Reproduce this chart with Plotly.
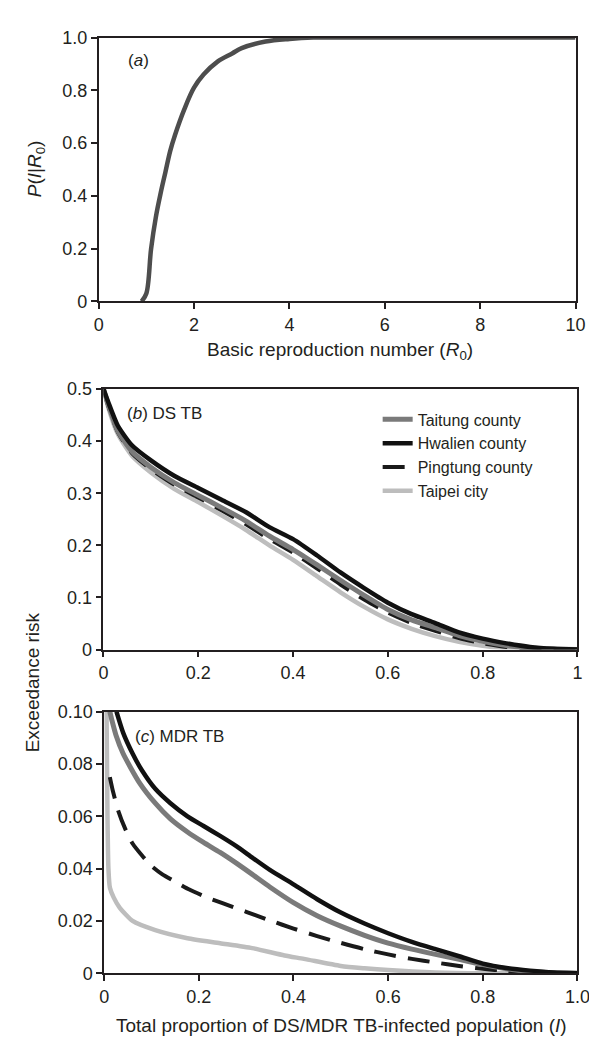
import plotly.graph_objects as go

# ---------------- data ----------------
# Panel (a): P(I|R0) vs R0
r0 = [0.9, 1.0, 1.1, 1.2, 1.3, 1.4, 1.5, 1.6, 1.8, 2.0, 2.2, 2.5, 2.8, 3.0, 3.5, 4.0, 4.5, 5.0, 10.0]
p_r0 = [0.0, 0.03, 0.20, 0.32, 0.41, 0.49, 0.57, 0.63, 0.73, 0.81, 0.86, 0.91, 0.94, 0.96, 0.985, 0.995, 1.0, 1.0, 1.0]

# Panel (b): DS TB exceedance risk
i_ds = [0, 0.01, 0.03, 0.06, 0.1, 0.15, 0.2, 0.25, 0.3, 0.35, 0.4, 0.45, 0.5, 0.55, 0.6, 0.65,
        0.7, 0.75, 0.8, 0.85, 0.9, 0.95, 1.0]
ds_hwalien = [0.5, 0.475, 0.43, 0.392, 0.363, 0.333, 0.31, 0.287, 0.264, 0.235, 0.212, 0.181, 0.148,
              0.118, 0.09, 0.068, 0.051, 0.033, 0.021, 0.012, 0.005, 0.0015, 0.0]
ds_taitung = [0.5, 0.47, 0.42, 0.38, 0.35, 0.32, 0.296, 0.272, 0.247, 0.218, 0.192, 0.163, 0.133,
              0.104, 0.077, 0.057, 0.042, 0.027, 0.016, 0.008, 0.003, 0.001, 0.0]
ds_pingtung = [0.5, 0.468, 0.418, 0.377, 0.346, 0.316, 0.292, 0.267, 0.241, 0.212, 0.186, 0.156, 0.125,
               0.096, 0.071, 0.051, 0.036, 0.022, 0.012, 0.005, 0.002, 0.0005, 0.0]
ds_taipei = [0.5, 0.465, 0.414, 0.372, 0.340, 0.308, 0.283, 0.257, 0.230, 0.200, 0.172, 0.141, 0.110,
             0.082, 0.058, 0.040, 0.026, 0.015, 0.0075, 0.003, 0.001, 0.0, 0.0]

# Panel (c): MDR TB exceedance risk
i_hw = [0.026, 0.04, 0.06, 0.08, 0.108, 0.14, 0.176, 0.21, 0.245, 0.28, 0.313, 0.35, 0.4, 0.45, 0.5,
        0.55, 0.6, 0.65, 0.7, 0.75, 0.8, 0.85, 0.9, 0.95, 1.0]
mdr_hwalien = [0.100, 0.092, 0.084, 0.0775, 0.0705, 0.065, 0.060, 0.0563, 0.0525, 0.0485, 0.0442, 0.0395,
               0.034, 0.0283, 0.0232, 0.019, 0.0153, 0.012, 0.0092, 0.0065, 0.0037, 0.002, 0.001, 0.0003, 0.0]
i_tt = [0.012, 0.016, 0.025, 0.04, 0.074, 0.108, 0.14, 0.176, 0.21, 0.245, 0.28, 0.313, 0.35, 0.4,
        0.45, 0.5, 0.55, 0.6, 0.65, 0.7, 0.75, 0.8, 0.85, 0.9, 1.0]
mdr_taitung = [0.100, 0.097, 0.091, 0.084, 0.073, 0.065, 0.059, 0.054, 0.050, 0.0462, 0.042, 0.0378,
               0.033, 0.027, 0.022, 0.018, 0.0145, 0.0115, 0.0092, 0.0072, 0.0053, 0.0033, 0.0017, 0.0006, 0.0]
i_pt = [0.012, 0.018, 0.03, 0.045, 0.06, 0.08, 0.1, 0.123, 0.15, 0.18, 0.217, 0.25, 0.3, 0.35, 0.4,
        0.45, 0.5, 0.55, 0.6, 0.65, 0.7, 0.75, 0.8, 0.85, 0.9, 1.0]
mdr_pingtung = [0.075, 0.070, 0.062, 0.055, 0.0496, 0.045, 0.041, 0.0378, 0.035, 0.032, 0.029, 0.0268,
                0.0235, 0.0202, 0.0171, 0.0142, 0.0116, 0.0092, 0.0072, 0.0055, 0.0041, 0.0028, 0.0017,
                0.0009, 0.0003, 0.0]
i_tp = [0.005, 0.007, 0.009, 0.012, 0.02, 0.033, 0.06, 0.108, 0.176, 0.245, 0.313, 0.381, 0.422,
        0.5, 0.55, 0.6, 0.7, 0.8, 1.0]
mdr_taipei = [0.100, 0.060, 0.040, 0.0328, 0.029, 0.025, 0.020, 0.0165, 0.0134, 0.0115, 0.0096, 0.0068,
              0.0055, 0.0028, 0.0019, 0.0012, 0.0003, 0.0, 0.0]

series_names = ["Taitung county", "Hwalien county", "Pingtung county", "Taipei city"]

# tick labels
a_xticks = [0, 2, 4, 6, 8, 10]
a_yticks = [0, 0.2, 0.4, 0.6, 0.8, 1.0]
a_ytext = ["0", "0.2", "0.4", "0.6", "0.8", "1.0"]
b_xticks = [0, 0.2, 0.4, 0.6, 0.8, 1.0]
b_xtext = ["0", "0.2", "0.4", "0.6", "0.8", "1"]
b_yticks = [0, 0.1, 0.2, 0.3, 0.4, 0.5]
b_ytext = ["0", "0.1", "0.2", "0.3", "0.4", "0.5"]
c_xticks = [0, 0.2, 0.4, 0.6, 0.8, 1.0]
c_xtext = ["0", "0.2", "0.4", "0.6", "0.8", "1.0"]
c_yticks = [0, 0.02, 0.04, 0.06, 0.08, 0.10]
c_ytext = ["0", "0.02", "0.04", "0.06", "0.08", "0.10"]

# ---------------- figure ----------------
W, H = 597, 1039
FONT = "Liberation Sans, Arial, sans-serif"
TXT = "#231f20"

styles = {
    "Taitung county": dict(color="#7a7a7a", width=5),
    "Hwalien county": dict(color="#111111", width=4.5),
    "Pingtung county": dict(color="#1a1a1a", width=4, dash="22px,12px"),
    "Taipei city": dict(color="#bdbdbd", width=4.5),
}

fig = go.Figure()

fig.add_trace(go.Scatter(x=r0, y=p_r0, mode="lines", line=dict(color="#4d4d4d", width=4.5),
                         line_shape="spline", showlegend=False, xaxis="x", yaxis="y"))

b_data = {"Taitung county": (i_ds, ds_taitung), "Hwalien county": (i_ds, ds_hwalien),
          "Pingtung county": (i_ds, ds_pingtung), "Taipei city": (i_ds, ds_taipei)}
c_data = {"Taitung county": (i_tt, mdr_taitung), "Hwalien county": (i_hw, mdr_hwalien),
          "Pingtung county": (i_pt, mdr_pingtung), "Taipei city": (i_tp, mdr_taipei)}

draw_order = ["Taipei city", "Pingtung county", "Taitung county", "Hwalien county"]
for name in draw_order:
    xs, ys = b_data[name]
    fig.add_trace(go.Scatter(x=xs, y=ys, mode="lines", name=name, line=styles[name],
                             line_shape="spline", line_smoothing=0.6,
                             legendrank=series_names.index(name) + 1,
                             showlegend=True, xaxis="x2", yaxis="y2"))
for name in draw_order:
    xs, ys = c_data[name]
    fig.add_trace(go.Scatter(x=xs, y=ys, mode="lines", name=name, line=styles[name],
                             line_shape="spline", line_smoothing=0.6,
                             showlegend=False, xaxis="x3", yaxis="y3"))


def px_x(p):
    return p / W


def px_y(p):
    return 1 - p / H


axis_common = dict(showline=True, linecolor="#231f20", linewidth=1.6, mirror=True,
                   ticks="outside", ticklen=6, tickcolor="#231f20", tickwidth=1.6,
                   showgrid=False, zeroline=False,
                   tickfont=dict(family=FONT, size=18, color=TXT))

fig.update_layout(
    width=W, height=H,
    margin=dict(l=0, r=0, t=0, b=0),
    paper_bgcolor="white", plot_bgcolor="white",
    font=dict(family=FONT, color=TXT),
    xaxis=dict(axis_common, domain=[px_x(88.3), px_x(580)], range=[0, 10],
               tickvals=a_xticks, anchor="y"),
    yaxis=dict(axis_common, domain=[px_y(289), px_y(20)], range=[0, 1.0],
               tickvals=a_yticks, ticktext=a_ytext, anchor="x"),
    xaxis2=dict(axis_common, domain=[px_x(93.3), px_x(582)], range=[0, 1],
                tickvals=b_xticks, ticktext=b_xtext, anchor="y2"),
    yaxis2=dict(axis_common, domain=[px_y(644), px_y(378.3)], range=[0, 0.5],
                tickvals=b_yticks, ticktext=b_ytext, anchor="x2"),
    xaxis3=dict(axis_common, domain=[px_x(94), px_x(582)], range=[0, 1],
                tickvals=c_xticks, ticktext=c_xtext, anchor="y3"),
    yaxis3=dict(axis_common, domain=[px_y(974), px_y(707.3)], range=[0, 0.10],
                tickvals=c_yticks, ticktext=c_ytext, anchor="x3"),
    legend=dict(x=px_x(376), y=px_y(392), xanchor="left", yanchor="top",
                bgcolor="rgba(0,0,0,0)", font=dict(family=FONT, size=16, color=TXT),
                itemwidth=30, tracegroupgap=0, traceorder="normal"),
)

ann = dict(xref="paper", yref="paper", showarrow=False, font=dict(family=FONT, size=19, color=TXT))
fig.add_annotation(ann, x=px_x(337), y=px_y(340), text="Basic reproduction number (<i>R</i><sub>0</sub>)",
                   xanchor="center", yanchor="middle")
fig.add_annotation(ann, x=px_x(24), y=px_y(154), text="<i>P</i>(<i>I</i>|<i>R</i><sub>0</sub>)",
                   textangle=-90, xanchor="center", yanchor="middle")
fig.add_annotation(ann, x=px_x(21), y=px_y(677), text="Exceedance risk",
                   textangle=-90, xanchor="center", yanchor="middle")
fig.add_annotation(ann, x=px_x(339), y=px_y(1027),
                   text="Total proportion of DS/MDR TB-infected population (<i>I</i>)",
                   xanchor="center", yanchor="middle")
small = dict(ann, font=dict(family=FONT, size=17, color=TXT))
fig.add_annotation(small, x=px_x(117), y=px_y(43), text="(<i>a</i>)", xanchor="left", yanchor="middle")
fig.add_annotation(small, x=px_x(115), y=px_y(403), text="(<i>b</i>) DS TB", xanchor="left", yanchor="middle")
fig.add_annotation(small, x=px_x(124), y=px_y(733), text="(<i>c</i>) MDR TB", xanchor="left", yanchor="middle")

fig.write_html("out.html")
